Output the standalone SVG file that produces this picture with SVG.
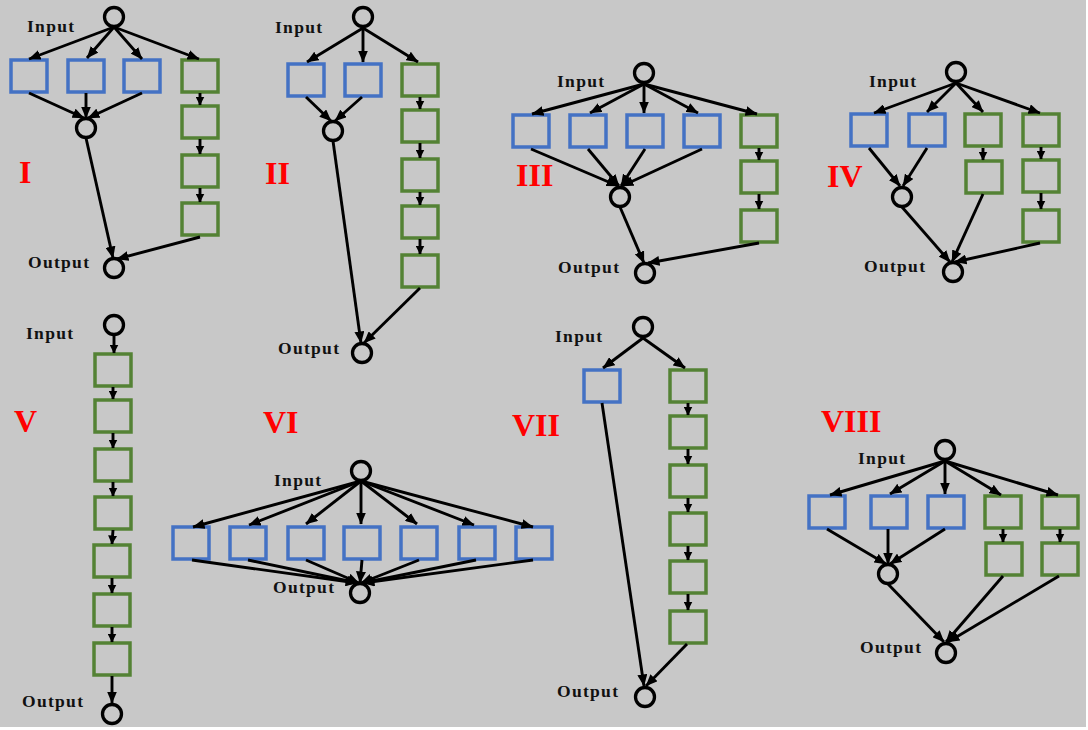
<svg xmlns="http://www.w3.org/2000/svg" width="1088" height="730" viewBox="0 0 1088 730">
<defs>
<marker id="ah" markerUnits="userSpaceOnUse" markerWidth="12" markerHeight="10" viewBox="0 0 12 10" refX="11.5" refY="5" orient="auto"><path d="M0,0 L12,5 L0,10 z" fill="#000"/></marker>
<marker id="ahs" markerUnits="userSpaceOnUse" markerWidth="9" markerHeight="9" viewBox="0 0 9 9" refX="8.5" refY="4.5" orient="auto"><path d="M0,0 L9,4.5 L0,9 z" fill="#000"/></marker>
</defs>
<style>
.b{fill:none;stroke:#4472c4;stroke-width:3.5}
.g{fill:none;stroke:#548235;stroke-width:3.5}
.c{fill:none;stroke:#000;stroke-width:3.3}
.t{font-family:"Liberation Serif","Times New Roman",serif;font-weight:bold;font-size:17.5px;letter-spacing:1.3px;fill:#111}
.n{font-family:"Liberation Serif","Times New Roman",serif;font-weight:bold;font-size:32px;fill:#ff0000}
#conn line{stroke:#000;stroke-width:2.9;marker-end:url(#ah)}
#conn line.s{marker-end:url(#ahs)}
</style>
<rect x="0" y="0" width="1088" height="730" fill="#ffffff"/>
<rect x="0" y="0" width="1086" height="727" fill="#c8c8c8"/>

<!-- Labels -->
<g id="labels">
<text class="n" x="19" y="183">I</text>
<text class="n" x="265" y="184">II</text>
<text class="n" x="516" y="186">III</text>
<text class="n" x="827" y="187">IV</text>
<text class="n" x="14" y="432">V</text>
<text class="n" x="263" y="433">VI</text>
<text class="n" x="512" y="436">VII</text>
<text class="n" x="821" y="432">VIII</text>
</g>

<!-- Panel I -->
<g id="p1-input"><circle class="c" cx="114" cy="17" r="9.5"/><text class="t" x="27" y="32">Input</text></g>
<g id="p1-b1"><rect class="b" x="11" y="60" width="36" height="32"/></g>
<g id="p1-b2"><rect class="b" x="68" y="60" width="36" height="32"/></g>
<g id="p1-b3"><rect class="b" x="124" y="60" width="36" height="32"/></g>
<g id="p1-g1"><rect class="g" x="182" y="60" width="36" height="32"/></g>
<g id="p1-g2"><rect class="g" x="182" y="106" width="36" height="32"/></g>
<g id="p1-g3"><rect class="g" x="182" y="155" width="36" height="32"/></g>
<g id="p1-g4"><rect class="g" x="182" y="203" width="36" height="32"/></g>
<g id="p1-merge"><circle class="c" cx="86" cy="128" r="9.5"/></g>
<g id="p1-output"><circle class="c" cx="114" cy="268" r="9.5"/><text class="t" x="28" y="268">Output</text></g>

<!-- Panel II -->
<g id="p2-input"><circle class="c" cx="363" cy="17" r="9.5"/><text class="t" x="275" y="33">Input</text></g>
<g id="p2-b1"><rect class="b" x="288" y="64" width="36" height="32"/></g>
<g id="p2-b2"><rect class="b" x="345" y="64" width="36" height="32"/></g>
<g id="p2-g1"><rect class="g" x="402" y="64" width="36" height="32"/></g>
<g id="p2-g2"><rect class="g" x="402" y="110" width="36" height="32"/></g>
<g id="p2-g3"><rect class="g" x="402" y="159" width="36" height="32"/></g>
<g id="p2-g4"><rect class="g" x="402" y="206" width="36" height="32"/></g>
<g id="p2-g5"><rect class="g" x="402" y="255" width="36" height="32"/></g>
<g id="p2-merge"><circle class="c" cx="333" cy="131" r="9.5"/></g>
<g id="p2-output"><circle class="c" cx="362" cy="353" r="9.5"/><text class="t" x="278" y="354">Output</text></g>

<!-- Panel III -->
<g id="p3-input"><circle class="c" cx="644" cy="73" r="9.5"/><text class="t" x="557" y="87">Input</text></g>
<g id="p3-b1"><rect class="b" x="513" y="115" width="36" height="32"/></g>
<g id="p3-b2"><rect class="b" x="570" y="115" width="36" height="32"/></g>
<g id="p3-b3"><rect class="b" x="627" y="115" width="36" height="32"/></g>
<g id="p3-b4"><rect class="b" x="684" y="115" width="36" height="32"/></g>
<g id="p3-g1"><rect class="g" x="741" y="115" width="36" height="32"/></g>
<g id="p3-g2"><rect class="g" x="741" y="161" width="36" height="32"/></g>
<g id="p3-g3"><rect class="g" x="741" y="210" width="36" height="32"/></g>
<g id="p3-merge"><circle class="c" cx="620" cy="197" r="9.5"/></g>
<g id="p3-output"><circle class="c" cx="645" cy="273" r="9.5"/><text class="t" x="558" y="273">Output</text></g>

<!-- Panel IV -->
<g id="p4-input"><circle class="c" cx="956" cy="72" r="9.5"/><text class="t" x="869" y="87">Input</text></g>
<g id="p4-b1"><rect class="b" x="851" y="114" width="36" height="32"/></g>
<g id="p4-b2"><rect class="b" x="909" y="114" width="36" height="32"/></g>
<g id="p4-g1"><rect class="g" x="965" y="114" width="36" height="32"/></g>
<g id="p4-g2"><rect class="g" x="966" y="161" width="36" height="32"/></g>
<g id="p4-g3"><rect class="g" x="1023" y="114" width="36" height="32"/></g>
<g id="p4-g4"><rect class="g" x="1023" y="160" width="36" height="32"/></g>
<g id="p4-g5"><rect class="g" x="1023" y="210" width="36" height="32"/></g>
<g id="p4-merge"><circle class="c" cx="902" cy="197" r="9.5"/></g>
<g id="p4-output"><circle class="c" cx="953" cy="272" r="9.5"/><text class="t" x="864" y="272">Output</text></g>

<!-- Panel V -->
<g id="p5-input"><circle class="c" cx="114" cy="325" r="9.5"/><text class="t" x="26" y="339">Input</text></g>
<g id="p5-g1"><rect class="g" x="95" y="354" width="36" height="32"/></g>
<g id="p5-g2"><rect class="g" x="95" y="400" width="36" height="32"/></g>
<g id="p5-g3"><rect class="g" x="95" y="449" width="36" height="32"/></g>
<g id="p5-g4"><rect class="g" x="95" y="497" width="36" height="32"/></g>
<g id="p5-g5"><rect class="g" x="94" y="545" width="36" height="32"/></g>
<g id="p5-g6"><rect class="g" x="94" y="594" width="36" height="32"/></g>
<g id="p5-g7"><rect class="g" x="94" y="643" width="36" height="32"/></g>
<g id="p5-output"><circle class="c" cx="112" cy="714" r="9.5"/><text class="t" x="22" y="707">Output</text></g>

<!-- Panel VI -->
<g id="p6-input"><circle class="c" cx="361" cy="471" r="9.5"/><text class="t" x="274" y="486">Input</text></g>
<g id="p6-b1"><rect class="b" x="173" y="527" width="36" height="32"/></g>
<g id="p6-b2"><rect class="b" x="230" y="527" width="36" height="32"/></g>
<g id="p6-b3"><rect class="b" x="288" y="527" width="36" height="32"/></g>
<g id="p6-b4"><rect class="b" x="344" y="527" width="36" height="32"/></g>
<g id="p6-b5"><rect class="b" x="401" y="527" width="36" height="32"/></g>
<g id="p6-b6"><rect class="b" x="459" y="527" width="36" height="32"/></g>
<g id="p6-b7"><rect class="b" x="516" y="527" width="36" height="32"/></g>
<g id="p6-output"><circle class="c" cx="360" cy="593" r="9.5"/><text class="t" x="273" y="593">Output</text></g>

<!-- Panel VII -->
<g id="p7-input"><circle class="c" cx="643" cy="327" r="9.5"/><text class="t" x="555" y="342">Input</text></g>
<g id="p7-b1"><rect class="b" x="584" y="370" width="36" height="32"/></g>
<g id="p7-g1"><rect class="g" x="670" y="370" width="36" height="32"/></g>
<g id="p7-g2"><rect class="g" x="670" y="416" width="36" height="32"/></g>
<g id="p7-g3"><rect class="g" x="670" y="465" width="36" height="32"/></g>
<g id="p7-g4"><rect class="g" x="670" y="513" width="36" height="32"/></g>
<g id="p7-g5"><rect class="g" x="670" y="561" width="36" height="32"/></g>
<g id="p7-g6"><rect class="g" x="670" y="611" width="36" height="32"/></g>
<g id="p7-output"><circle class="c" cx="645" cy="697" r="9.5"/><text class="t" x="557" y="697">Output</text></g>

<!-- Panel VIII -->
<g id="p8-input"><circle class="c" cx="945" cy="450" r="9.5"/><text class="t" x="858" y="464">Input</text></g>
<g id="p8-b1"><rect class="b" x="809" y="496" width="36" height="32"/></g>
<g id="p8-b2"><rect class="b" x="871" y="496" width="36" height="32"/></g>
<g id="p8-b3"><rect class="b" x="928" y="496" width="36" height="32"/></g>
<g id="p8-g1"><rect class="g" x="985" y="496" width="36" height="32"/></g>
<g id="p8-g2"><rect class="g" x="986" y="543" width="36" height="32"/></g>
<g id="p8-g3"><rect class="g" x="1042" y="496" width="36" height="32"/></g>
<g id="p8-g4"><rect class="g" x="1042" y="543" width="36" height="32"/></g>
<g id="p8-merge"><circle class="c" cx="888" cy="574" r="9.5"/></g>
<g id="p8-output"><circle class="c" cx="946" cy="653" r="9.5"/><text class="t" x="860" y="653">Output</text></g>

<g id="conn">
<!-- I -->
<line x1="114" y1="27" x2="29" y2="59"/>
<line x1="114" y1="27" x2="87" y2="58"/>
<line x1="114" y1="27" x2="142" y2="59"/>
<line x1="114" y1="27" x2="199" y2="59"/>
<line x1="29" y1="93" x2="84" y2="118"/>
<line x1="86" y1="93" x2="86" y2="118"/>
<line x1="142" y1="93" x2="88" y2="118"/>
<line x1="86" y1="138" x2="113" y2="258"/>
<line x1="200" y1="237" x2="117" y2="259"/>
<line class="s" x1="200" y1="93" x2="200" y2="105"/>
<line class="s" x1="200" y1="139" x2="200" y2="154"/>
<line class="s" x1="200" y1="188" x2="200" y2="202"/>
<!-- II -->
<line x1="363" y1="28" x2="307" y2="62"/>
<line x1="363" y1="28" x2="363" y2="62"/>
<line x1="363" y1="28" x2="418" y2="62"/>
<line x1="306" y1="97" x2="331" y2="121"/>
<line x1="362" y1="97" x2="335" y2="121"/>
<line x1="333" y1="141" x2="361" y2="343"/>
<line x1="420" y1="288" x2="364" y2="343"/>
<line class="s" x1="420" y1="97" x2="420" y2="109"/>
<line class="s" x1="420" y1="143" x2="420" y2="158"/>
<line class="s" x1="420" y1="192" x2="420" y2="205"/>
<line class="s" x1="420" y1="239" x2="420" y2="254"/>
<!-- III -->
<line x1="644" y1="84" x2="532" y2="114"/>
<line x1="644" y1="84" x2="590" y2="113"/>
<line x1="644" y1="84" x2="644" y2="113"/>
<line x1="644" y1="84" x2="698" y2="113"/>
<line x1="644" y1="84" x2="757" y2="114"/>
<line x1="531" y1="149" x2="618" y2="186"/>
<line x1="588" y1="149" x2="619" y2="186"/>
<line x1="645" y1="149" x2="621" y2="186"/>
<line x1="702" y1="149" x2="622" y2="186"/>
<line x1="620" y1="207" x2="644" y2="263"/>
<line x1="759" y1="243" x2="648" y2="263"/>
<line class="s" x1="759" y1="148" x2="759" y2="160"/>
<line class="s" x1="759" y1="194" x2="759" y2="209"/>
<!-- IV -->
<line x1="956" y1="83" x2="874" y2="113"/>
<line x1="956" y1="83" x2="927" y2="112"/>
<line x1="956" y1="83" x2="983" y2="112"/>
<line x1="956" y1="83" x2="1040" y2="113"/>
<line x1="869" y1="148" x2="900" y2="186"/>
<line x1="927" y1="148" x2="903" y2="186"/>
<line class="s" x1="983" y1="148" x2="983" y2="160"/>
<line x1="983" y1="194" x2="952" y2="262"/>
<line class="s" x1="1041" y1="147" x2="1041" y2="159"/>
<line class="s" x1="1041" y1="193" x2="1041" y2="209"/>
<line x1="902" y1="207" x2="950" y2="262"/>
<line x1="1040" y1="243" x2="955" y2="262"/>
<!-- V -->
<line class="s" x1="114" y1="336" x2="114" y2="353"/>
<line class="s" x1="113" y1="387" x2="113" y2="399"/>
<line class="s" x1="113" y1="433" x2="113" y2="448"/>
<line class="s" x1="113" y1="482" x2="113" y2="496"/>
<line class="s" x1="113" y1="530" x2="112" y2="544"/>
<line class="s" x1="112" y1="578" x2="112" y2="593"/>
<line class="s" x1="112" y1="627" x2="112" y2="642"/>
<line x1="112" y1="676" x2="112" y2="703"/>
<!-- VI -->
<line x1="361" y1="481" x2="193" y2="527"/>
<line x1="361" y1="481" x2="249" y2="525"/>
<line x1="361" y1="481" x2="306" y2="524"/>
<line x1="361" y1="481" x2="361" y2="524"/>
<line x1="361" y1="481" x2="417" y2="524"/>
<line x1="361" y1="481" x2="474" y2="525"/>
<line x1="361" y1="481" x2="533" y2="527"/>
<line x1="192" y1="560" x2="357" y2="583"/>
<line x1="248" y1="560" x2="358" y2="583"/>
<line x1="306" y1="560" x2="359" y2="583"/>
<line x1="362" y1="560" x2="360" y2="583"/>
<line x1="419" y1="560" x2="361" y2="583"/>
<line x1="476" y1="560" x2="362" y2="583"/>
<line x1="533" y1="560" x2="363" y2="583"/>
<!-- VII -->
<line x1="643" y1="338" x2="603" y2="368"/>
<line x1="643" y1="338" x2="685" y2="368"/>
<line x1="602" y1="403" x2="644" y2="686"/>
<line x1="687" y1="644" x2="646" y2="686"/>
<line class="s" x1="688" y1="403" x2="688" y2="415"/>
<line class="s" x1="688" y1="449" x2="688" y2="464"/>
<line class="s" x1="688" y1="498" x2="688" y2="512"/>
<line class="s" x1="688" y1="546" x2="688" y2="560"/>
<line class="s" x1="688" y1="594" x2="688" y2="610"/>
<!-- VIII -->
<line x1="945" y1="461" x2="830" y2="495"/>
<line x1="945" y1="461" x2="890" y2="494"/>
<line x1="945" y1="461" x2="945" y2="494"/>
<line x1="945" y1="461" x2="1001" y2="495"/>
<line x1="945" y1="461" x2="1058" y2="495"/>
<line x1="827" y1="529" x2="886" y2="564"/>
<line x1="888" y1="529" x2="888" y2="564"/>
<line x1="945" y1="529" x2="890" y2="564"/>
<line class="s" x1="1003" y1="529" x2="1003" y2="542"/>
<line class="s" x1="1060" y1="529" x2="1060" y2="542"/>
<line x1="1003" y1="576" x2="946" y2="642"/>
<line x1="1059" y1="576" x2="948" y2="642"/>
<line x1="888" y1="584" x2="944" y2="642"/>
</g>
</svg>
